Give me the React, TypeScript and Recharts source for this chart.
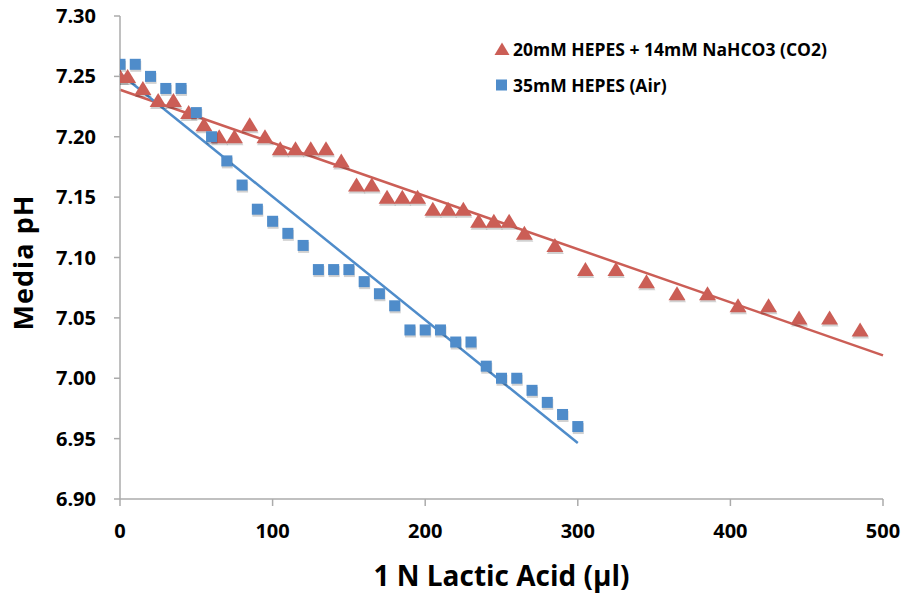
import React from 'react';
import { ScatterChart, Scatter, XAxis, YAxis, ReferenceLine, Legend, Label } from 'recharts';

const co2X = [0, 5, 15, 25, 35, 45, 55, 65, 75, 85, 95, 105, 115, 125, 135, 145, 155, 165, 175, 185, 195, 205, 215, 225, 235, 245, 255, 265, 285, 305, 325, 345, 365, 385, 405, 425, 445, 465, 485];
const co2Y = [7.25, 7.25, 7.24, 7.23, 7.23, 7.22, 7.21, 7.20, 7.20, 7.21, 7.20, 7.19, 7.19, 7.19, 7.19, 7.18, 7.16, 7.16, 7.15, 7.15, 7.15, 7.14, 7.14, 7.14, 7.13, 7.13, 7.13, 7.12, 7.11, 7.09, 7.09, 7.08, 7.07, 7.07, 7.06, 7.06, 7.05, 7.05, 7.04];

const airX = [0, 10, 20, 30, 40, 50, 60, 70, 80, 90, 100, 110, 120, 130, 140, 150, 160, 170, 180, 190, 200, 210, 220, 230, 240, 250, 260, 270, 280, 290, 300];
const airY = [7.26, 7.26, 7.25, 7.24, 7.24, 7.22, 7.20, 7.18, 7.16, 7.14, 7.13, 7.12, 7.11, 7.09, 7.09, 7.09, 7.08, 7.07, 7.06, 7.04, 7.04, 7.04, 7.03, 7.03, 7.01, 7.00, 7.00, 6.99, 6.98, 6.97, 6.96];

const xTicks = [0, 100, 200, 300, 400, 500];
const yTicks = [6.9, 6.95, 7.0, 7.05, 7.1, 7.15, 7.2, 7.25, 7.3];

const co2Name = '20mM HEPES + 14mM NaHCO3 (CO2)';
const airName = '35mM HEPES (Air)';
const xTitle = '1 N Lactic Acid (µl)';
const yTitle = 'Media pH';

const RED = '#CB5E56';
const BLUE = '#4F8CCA';
const AXIS = '#ABABAB';
const FONT = '"Open Sans", sans-serif';

const co2Data = co2X.map((x, i) => ({ x, y: co2Y[i] }));
const airData = airX.map((x, i) => ({ x, y: airY[i] }));

function regress(xs: number[], ys: number[]) {
  const n = xs.length;
  const mx = xs.reduce((a, b) => a + b, 0) / n;
  const my = ys.reduce((a, b) => a + b, 0) / n;
  let sxy = 0, sxx = 0;
  for (let i = 0; i < n; i++) {
    sxy += (xs[i] - mx) * (ys[i] - my);
    sxx += (xs[i] - mx) * (xs[i] - mx);
  }
  const b = sxy / sxx;
  return { a: my - b * mx, b };
}

const co2Fit = regress(co2X, co2Y);
const airFit = regress(airX, airY);
const co2End = 500;
const airEnd = 300;

const Triangle = (props: any) => {
  const { cx, cy } = props;
  if (cx == null || cy == null) return null;
  const pts = (dx: number, dy: number) =>
    `${cx + dx},${cy - 7.5 + dy} ${cx - 8.5 + dx},${cy + 6.5 + dy} ${cx + 8.5 + dx},${cy + 6.5 + dy}`;
  return (
    <g>
      <polygon points={pts(0.5, 2)} fill="#000" fillOpacity={0.18} />
      <polygon points={pts(0, 0)} fill={RED} />
    </g>
  );
};

const Square = (props: any) => {
  const { cx, cy } = props;
  if (cx == null || cy == null) return null;
  return (
    <g>
      <rect x={cx - 5.5 + 0.5} y={cy - 5.5 + 2} width={11} height={11} fill="#000" fillOpacity={0.18} />
      <rect x={cx - 5.5} y={cy - 5.5} width={11} height={11} fill={BLUE} />
    </g>
  );
};

const LegendContent = () => (
  <div style={{ fontFamily: FONT, fontWeight: 700, fontSize: 17.5, color: '#000', lineHeight: '36px' }}>
    <div style={{ display: 'flex', alignItems: 'center' }}>
      <svg width={16} height={14} style={{ marginRight: 3 }}>
        <polygon points="8,0.5 0.5,13 15.5,13" fill={RED} />
      </svg>
      <span>{co2Name}</span>
    </div>
    <div style={{ display: 'flex', alignItems: 'center' }}>
      <svg width={16} height={14} style={{ marginRight: 3 }}>
        <rect x={2} y={1.5} width={11} height={11} fill={BLUE} />
      </svg>
      <span>{airName}</span>
    </div>
  </div>
);

const YTitle = (props: any) => {
  const vb = props.viewBox || {};
  const cy = vb.y + vb.height / 2 + 5;
  const x = 33;
  return (
    <text
      x={x}
      y={cy}
      transform={`rotate(-90, ${x}, ${cy})`}
      textAnchor="middle"
      fontFamily={FONT}
      fontWeight={700}
      fontSize={27}
      letterSpacing={1}
      fill="#000"
    >
      {yTitle}
    </text>
  );
};

const XTitle = (props: any) => {
  const vb = props.viewBox || {};
  const cx = vb.x + vb.width / 2;
  return (
    <text x={cx} y={586} textAnchor="middle" fontFamily={FONT} fontWeight={700} fontSize={28} fill="#000">
      {xTitle}
    </text>
  );
};

export default function App() {
  const tickStyle = { fill: '#000', fontSize: 20, fontWeight: 700, fontFamily: FONT };
  return (
    <div style={{ position: 'absolute', left: 0, top: 0, width: 906, height: 594, background: '#fff' }}>
      <ScatterChart width={906} height={594} margin={{ top: 16, right: 23, left: 0, bottom: 0 }}>
        <XAxis
          type="number"
          dataKey="x"
          domain={[0, 500]}
          ticks={xTicks}
          height={95}
          tickSize={7}
          tickMargin={18}
          tick={tickStyle}
          axisLine={{ stroke: AXIS, strokeWidth: 1.5 }}
          tickLine={{ stroke: AXIS, strokeWidth: 1.5 }}
          allowDataOverflow
        >
          <Label content={<XTitle />} />
        </XAxis>
        <YAxis
          type="number"
          dataKey="y"
          domain={[6.9, 7.3]}
          ticks={yTicks}
          width={120}
          tickSize={6}
          tickMargin={18}
          tick={tickStyle}
          tickFormatter={(v: number) => v.toFixed(2)}
          axisLine={{ stroke: AXIS, strokeWidth: 1.5 }}
          tickLine={{ stroke: AXIS, strokeWidth: 1.5 }}
          allowDataOverflow
        >
          <Label content={<YTitle />} />
        </YAxis>
        <ReferenceLine
          segment={[{ x: 0, y: co2Fit.a }, { x: co2End, y: co2Fit.a + co2Fit.b * co2End }]}
          stroke={RED}
          strokeWidth={2.5}
          ifOverflow="visible"
        />
        <ReferenceLine
          segment={[{ x: 0, y: airFit.a }, { x: airEnd, y: airFit.a + airFit.b * airEnd }]}
          stroke={BLUE}
          strokeWidth={2.5}
          ifOverflow="visible"
        />
        <Scatter name={co2Name} data={co2Data} shape={<Triangle />} isAnimationActive={false} />
        <Scatter name={airName} data={airData} shape={<Square />} isAnimationActive={false} />
        <Legend
          layout="horizontal"
          verticalAlign="middle"
          align="center"
          content={<LegendContent />}
          wrapperStyle={{ position: 'absolute', top: 31, left: 494, width: 400 }}
        />
      </ScatterChart>
    </div>
  );
}
